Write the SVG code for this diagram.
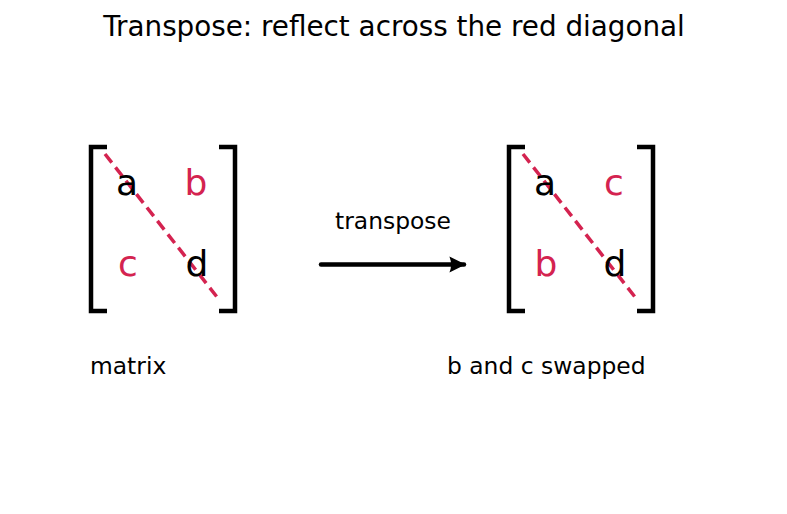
<svg xmlns="http://www.w3.org/2000/svg" width="787" height="514" viewBox="0 0 787 514">
<style>
text{font-family:"DejaVu Sans",sans-serif;}
.br{fill:none;stroke:#000;stroke-width:4.5;}
.diag{stroke:#d42350;stroke-width:3.5;stroke-dasharray:11,6;fill:none;}
.el{font-size:36px;text-anchor:middle;}
.k{fill:#000;}
.r{fill:#d42350;}
.lab{font-size:23.4px;}
</style>
<defs>
<marker id="ah" viewBox="0 0 10 10" refX="9" refY="5" markerWidth="3.8" markerHeight="3.6" orient="auto" markerUnits="strokeWidth">
<path d="M0,0 L10,5 L0,10 Q2,5 0,0 z" fill="#000"/>
</marker>
</defs>
<rect width="787" height="514" fill="#fff"/>
<text x="394" y="36" font-size="27.8" text-anchor="middle">Transpose: reflect across the red diagonal</text>
<g id="matrix-left">
<path class="br" d="M107,147 H91 V311 H107"/>
<path class="br" d="M219,147 H235 V311 H219"/>
<line class="diag" x1="105" y1="154" x2="217" y2="297"/>
<text class="el k" x="127" y="195">a</text>
<text class="el r" x="196" y="195">b</text>
<text class="el r" x="128" y="276">c</text>
<text class="el k" x="197" y="276">d</text>
<text class="lab" x="90" y="374">matrix</text>
</g>
<g id="matrix-right">
<path class="br" d="M525,147 H509 V311 H525"/>
<path class="br" d="M637,147 H653 V311 H637"/>
<line class="diag" x1="523" y1="154" x2="635" y2="297"/>
<text class="el k" x="545" y="195">a</text>
<text class="el r" x="614" y="195">c</text>
<text class="el r" x="546" y="276">b</text>
<text class="el k" x="615" y="276">d</text>
<text class="lab" x="447" y="374">b and c swapped</text>
</g>
<g id="connectors">
<line x1="321" y1="264.5" x2="464" y2="264.5" stroke="#000" stroke-width="4.5" stroke-linecap="round" marker-end="url(#ah)"/>
<text class="lab" x="393" y="229" text-anchor="middle">transpose</text>
</g>
</svg>
